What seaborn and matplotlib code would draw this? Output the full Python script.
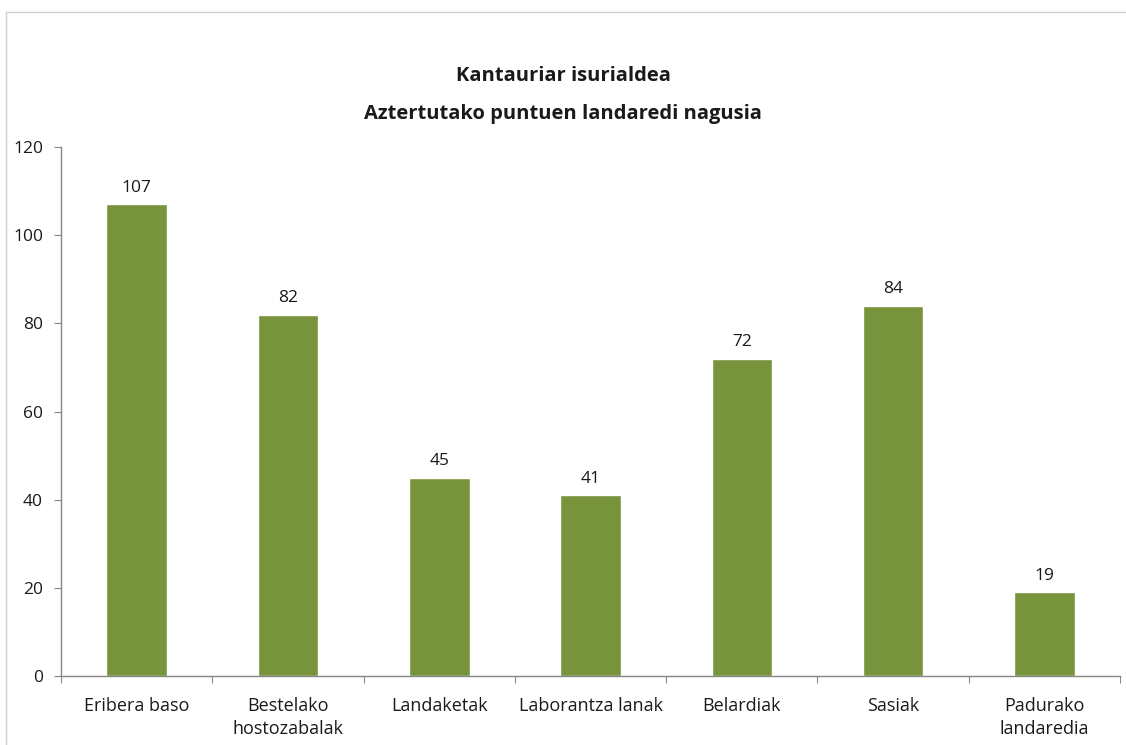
import matplotlib
matplotlib.use("Agg")
import matplotlib.pyplot as plt
import matplotlib.patches as mpatches
import pandas as pd
import seaborn as sb

# Datuak
kategoriak = ["Eribera baso", "Bestelako\nhostozabalak", "Landaketak",
              "Laborantza lanak", "Belardiak", "Sasiak", "Padurako\nlandaredia"]
balioak = [107, 82, 45, 41, 72, 84, 19]
y_tickak = [0, 20, 40, 60, 80, 100, 120]

df = pd.DataFrame({"kategoria": kategoriak, "balioa": balioak})

sb.set_style("white")
plt.rcParams["font.family"] = ["Open Sans", "DejaVu Sans"]

fig = plt.figure(figsize=(11.26, 7.45), dpi=100)
ax = fig.add_axes([0.0542, 0.0926, 0.9405, 0.7101])

sb.barplot(data=df, x="kategoria", y="balioa", color="#77933C",
           width=0.4, saturation=1, ax=ax)

# balioen etiketak
for i, v in enumerate(balioak):
    ax.annotate(str(v), (i, v), xytext=(0, 6), textcoords="offset points",
                ha="center", va="bottom", fontsize=12.5, color="#1a1a1a")

ax.set_xlim(-0.5, len(kategoriak) - 0.5)
ax.set_ylim(0, 120)
ax.set_yticks(y_tickak)
ax.set_xlabel("")
ax.set_ylabel("")

# Excel estiloko tickak kategorien artean
ax.set_xticks([i - 0.5 for i in range(len(kategoriak) + 1)], minor=False)
ax.set_xticklabels([])
ax.set_xticks(range(len(kategoriak)), minor=True)
ax.set_xticklabels(kategoriak, minor=True, fontsize=13, color="#1a1a1a",
                   linespacing=1.4)
ax.tick_params(axis="x", which="minor", bottom=False, length=0, pad=15)
ax.tick_params(axis="x", which="major", bottom=True, length=5,
               color="#868686", direction="out")
ax.tick_params(axis="y", left=True, length=5, color="#868686", direction="out",
               labelsize=12.5, labelcolor="#1a1a1a", pad=8)

for s in ["top", "right"]:
    ax.spines[s].set_visible(False)
for s in ["left", "bottom"]:
    ax.spines[s].set_color("#868686")
    ax.spines[s].set_linewidth(1)

fig.text(0.5, 0.898, "Kantauriar isurialdea", ha="center", va="center",
         fontsize=14.5, fontweight="bold", color="#1a1a1a")
fig.text(0.5, 0.847, "Aztertutako puntuen landaredi nagusia", ha="center",
         va="center", fontsize=14.5, fontweight="bold", color="#1a1a1a")

# grafikoaren ertza
fig.patches.append(mpatches.Rectangle((0.0053, -0.1), 1.2, 1.084,
                                      transform=fig.transFigure, fill=False,
                                      edgecolor="#d0d0d0", linewidth=1))

fig.savefig("out.png", dpi=100)
